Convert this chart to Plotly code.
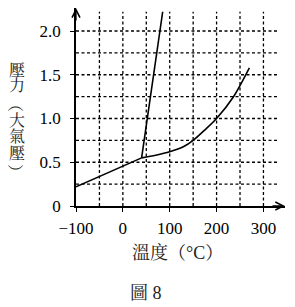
import plotly.graph_objects as go

# ---- data ----
sub_t = [-100, 40]
sub_p = [0.22, 0.55]
melt_t = [40, 85]
melt_p = [0.55, 2.22]
vap_t = [40, 70, 100, 130, 150, 175, 200, 235, 270]
vap_p = [0.55, 0.58, 0.62, 0.68, 0.75, 0.87, 1.0, 1.24, 1.58]

grid_x = [-50, 0, 50, 100, 150, 200, 250, 300]
grid_y = [0.25, 0.5, 0.75, 1.0, 1.25, 1.5, 1.75, 2.0]
xtick_vals = [-100, 0, 100, 200, 300]
xtick_text = ["\u2212100", "0", "100", "200", "300"]
ytick_vals = [0, 0.5, 1.0, 1.5, 2.0]
ytick_text = ["0", "0.5", "1.0", "1.5", "2.0"]

y_title_chars = ["壓", "力", "（", "大", "氣", "壓", "）"]
x_title = "溫度（°C）"
caption = "圖 8"

# ---- layout geometry ----
W, H = 295, 307
ML, MR, MT, MB = 76, 10, 8, 101
XR = [-100, 346]
YR = [0, 2.263]
GRID_TOP = 2.22
GRID_RIGHT = 331

FONT = "Liberation Serif, Noto Serif CJK TC, Noto Sans CJK TC, serif"
CJK = "Noto Serif CJK TC, Noto Sans CJK TC, serif"

pw = W - ML - MR
ph = H - MT - MB


def px(xp):
    return (xp - ML) / pw


def py(yp):
    return (H - MB - yp) / ph


fig = go.Figure()

line_style = dict(color="black", width=1.6)
fig.add_trace(go.Scatter(x=sub_t, y=sub_p, mode="lines", line=line_style, hoverinfo="skip"))
fig.add_trace(go.Scatter(x=melt_t, y=melt_p, mode="lines", line=line_style, hoverinfo="skip"))
fig.add_trace(go.Scatter(x=vap_t, y=vap_p, mode="lines",
                         line=dict(color="black", width=1.6, shape="spline", smoothing=0.8),
                         hoverinfo="skip"))

shapes = []
for gx in grid_x:
    shapes.append(dict(type="line", xref="x", yref="y", x0=gx, x1=gx, y0=0, y1=GRID_TOP,
                       line=dict(color="black", width=1.3, dash="3px,2.5px"), layer="below"))
for gy in grid_y:
    shapes.append(dict(type="line", xref="x", yref="y", x0=XR[0], x1=GRID_RIGHT, y0=gy, y1=gy,
                       line=dict(color="black", width=1.3, dash="3px,2.5px"), layer="below"))

annotations = []
# axis arrows
annotations.append(dict(x=XR[1], y=0, xref="x", yref="y", ax=-14, ay=0, text="",
                        showarrow=True, arrowhead=5, arrowsize=1.2, arrowwidth=1.3, arrowcolor="black"))
annotations.append(dict(x=XR[0], y=YR[1], xref="x", yref="y", ax=0, ay=14, text="",
                        showarrow=True, arrowhead=5, arrowsize=1.2, arrowwidth=1.3, arrowcolor="black"))

# y title (vertical, character by character; brackets turned for vertical writing)
y_centers = [69, 85, 104, 119.5, 135.5, 152.5, 172]
for ch, yc in zip(y_title_chars, y_centers):
    turn = 90 if ch in ("（", "）") else 0
    annotations.append(dict(x=px(17), y=py(yc), xref="paper", yref="paper", text=ch,
                            showarrow=False, xanchor="center", yanchor="middle", textangle=turn,
                            font=dict(family=CJK, size=16, color="#222")))

annotations.append(dict(x=px(177), y=py(253), xref="paper", yref="paper", text=x_title,
                        showarrow=False, xanchor="center", yanchor="middle",
                        font=dict(family=FONT, size=18, color="#222")))
annotations.append(dict(x=px(146), y=py(293), xref="paper", yref="paper", text=caption,
                        showarrow=False, xanchor="center", yanchor="middle",
                        font=dict(family=FONT, size=18, color="#222")))

fig.update_layout(
    width=W, height=H,
    margin=dict(l=ML, r=MR, t=MT, b=MB),
    paper_bgcolor="white", plot_bgcolor="white",
    showlegend=False,
    shapes=shapes,
    annotations=annotations,
    font=dict(family=FONT, size=17, color="black"),
    xaxis=dict(range=XR, showgrid=False, zeroline=False, showline=True, linecolor="black",
               linewidth=1.5, ticks="outside", ticklen=4, tickwidth=1.3, tickcolor="black",
               tickvals=xtick_vals, ticktext=xtick_text, ticklabelstandoff=2,
               tickfont=dict(family=FONT, size=17, color="black"), fixedrange=True),
    yaxis=dict(range=YR, showgrid=False, zeroline=False, showline=True, linecolor="black",
               linewidth=1.5, ticks="outside", ticklen=4, tickwidth=1.3, tickcolor="black",
               tickvals=ytick_vals, ticktext=ytick_text, ticklabelstandoff=6,
               tickfont=dict(family=FONT, size=17, color="black"), fixedrange=True),
)

fig.write_html("out.html", config={"displayModeBar": False})
